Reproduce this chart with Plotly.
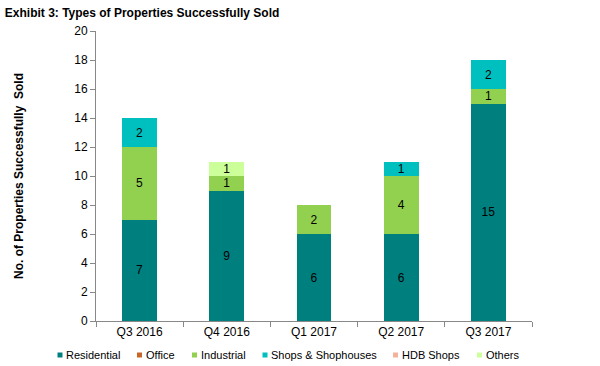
import plotly.graph_objects as go

categories = ["Q3 2016", "Q4 2016", "Q1 2017", "Q2 2017", "Q3 2017"]
residential = [7, 9, 6, 6, 15]
office = [0, 0, 0, 0, 0]
industrial = [5, 1, 2, 4, 1]
shops = [2, 0, 0, 1, 2]
hdb_shops = [0, 0, 0, 0, 0]
others = [0, 1, 0, 0, 0]
y_ticks = [0, 2, 4, 6, 8, 10, 12, 14, 16, 18, 20]

series_names = ["Residential", "Office", "Industrial", "Shops & Shophouses", "HDB Shops", "Others"]
series_values = [residential, office, industrial, shops, hdb_shops, others]
series_colors = ["#007F7F", "#C8662A", "#92D050", "#00BFBF", "#F2B39A", "#CCFF99"]

# plot area in pixels
W, H = 600, 366
L, R, T, B = 96, 68, 31, 45
pw, ph = W - L - R, H - T - B

fig = go.Figure()
for name, vals, color in zip(series_names, series_values, series_colors):
    fig.add_trace(go.Bar(
        x=categories, y=vals, name=name,
        marker=dict(color=color, line=dict(width=0)),
        text=[str(v) if v else "" for v in vals],
        textposition="inside", insidetextanchor="middle",
        textangle=0, constraintext="none",
        textfont=dict(family="Liberation Sans, Arial", size=12, color="black"),
        width=0.4, showlegend=False,
    ))

# custom legend (small squares + labels) to mimic the compact original
legend_sq_px = [60, 139.5, 194.5, 265, 395.5, 479.5]
legend_y_px = 355
shapes, annotations = [], []
ly = (H - B - legend_y_px) / ph
for name, color, sx in zip(series_names, series_colors, legend_sq_px):
    xa = (sx - L) / pw
    shapes.append(dict(type="rect", xref="paper", yref="paper",
                       xsizemode="pixel", ysizemode="pixel",
                       xanchor=xa, yanchor=ly, x0=-2.5, x1=2.5, y0=-2.5, y1=2.5,
                       fillcolor=color, line=dict(width=0)))
    annotations.append(dict(text=name, xref="paper", yref="paper",
                            x=(sx + 4 - L) / pw, y=ly, xanchor="left", yanchor="middle",
                            showarrow=False, font=dict(size=11, color="black")))

fig.update_layout(
    barmode="stack",
    width=W, height=H,
    margin=dict(l=L, r=R, t=T, b=B),
    paper_bgcolor="white", plot_bgcolor="white",
    font=dict(family="Liberation Sans, Arial", size=12, color="black"),
    title=dict(text="<b>Exhibit 3: Types of Properties Successfully Sold</b>",
               x=0.008, xanchor="left", y=0.965, yanchor="middle",
               font=dict(size=12, color="black")),
    showlegend=False,
    shapes=shapes,
    annotations=annotations,
    xaxis=dict(type="category", showline=True, linecolor="#888888", linewidth=1,
               ticks="outside", tickson="boundaries", ticklen=5, tickcolor="#888888",
               showgrid=False, automargin=False),
    yaxis=dict(range=[0, 20], tickvals=y_ticks, showline=True, linecolor="#888888",
               linewidth=1, ticks="outside", ticklen=5, tickcolor="#888888",
               showgrid=False, zeroline=False, automargin=False,
               title=dict(text="<b>No. of Properties Successfully  Sold</b>",
                          font=dict(size=12), standoff=48)),
)

fig.write_html("out.html", config={"displayModeBar": False},
               post_script="document.body.style.margin='0';document.body.style.overflow='hidden';")
